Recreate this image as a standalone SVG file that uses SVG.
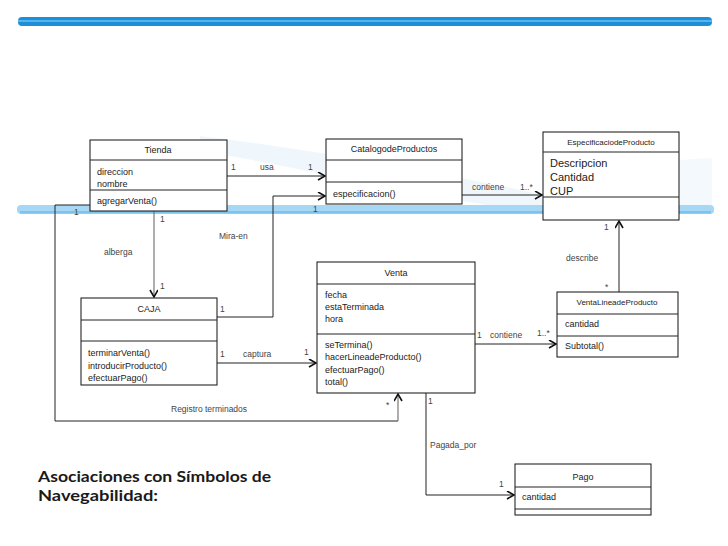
<svg xmlns="http://www.w3.org/2000/svg" width="728" height="546" viewBox="0 0 728 546">
<style>
.box{fill:#fff;stroke:#111;stroke-width:1}
.t{font-family:"Liberation Sans",Arial,sans-serif;font-size:9px;fill:#222}
.tc{text-anchor:middle}
.s{font-size:8px}
.b{font-size:11px}
.lbl{font-family:"Liberation Sans",Arial,sans-serif;font-size:8.5px;fill:#444}
.ln{fill:none;stroke:#222;stroke-width:1}
.lg{fill:none;stroke:#777;stroke-width:1.2}
.hd{font-family:Lato,"Open Sans",sans-serif;font-weight:bold;font-size:15.8px;fill:#1a1a1a}
</style>
<defs>
<marker id="arr" markerWidth="10" markerHeight="10" refX="8" refY="4" orient="auto" markerUnits="userSpaceOnUse">
<path d="M1,0 L8,4 L1,8" fill="none" stroke="#111" stroke-width="1.6"/>
</marker>
</defs>
<rect width="728" height="546" fill="#fff"/>
<g id="background">
<path d="M200,136 C320,150 450,175 545,195 L545,215 C450,200 330,175 200,150 Z" fill="#f0f7fc"/>
<path d="M680,160 L712,158 L712,205 L680,205 Z" fill="#f3f9fd"/>
<rect x="18" y="17" width="694" height="9" rx="4" fill="#1c8fd9"/>
<rect x="18" y="20" width="694" height="2" fill="#5ab4ec"/>
<rect x="17" y="205" width="697" height="9" rx="4" fill="#a6d8f6"/>
<rect x="20" y="211" width="691" height="2.5" fill="#7cc3ee"/>
</g>
<g id="connectors">
<line class="ln" x1="227" y1="176" x2="325" y2="176" marker-end="url(#arr)"/>
<polyline class="ln" points="217,317 273,317 273,196 325,196" marker-end="url(#arr)"/>
<line class="lg" x1="154" y1="211" x2="154" y2="297" marker-end="url(#arr)"/>
<polyline class="ln" points="90,205 55,205 55,421 398,421"/>
<line class="lg" x1="398" y1="421" x2="398" y2="394" marker-end="url(#arr)"/>
<line class="ln" x1="462" y1="195" x2="542" y2="195" marker-end="url(#arr)"/>
<line class="ln" x1="619" y1="292" x2="619" y2="221" marker-end="url(#arr)"/>
<line class="ln" x1="475" y1="344" x2="556" y2="344" marker-end="url(#arr)"/>
<line class="ln" x1="217" y1="363" x2="316" y2="363" marker-end="url(#arr)"/>
<polyline class="ln" points="426,393 426,495 514,495" marker-end="url(#arr)"/>
<text class="lbl" x="231" y="170">1</text>
<text class="lbl" x="260" y="170">usa</text>
<text class="lbl" x="308" y="170">1</text>
<text class="lbl" x="219" y="239">Mira-en</text>
<text class="lbl" x="220" y="312">1</text>
<text class="lbl" x="313" y="212">1</text>
<text class="lbl" x="160" y="222">1</text>
<text class="lbl" x="104" y="255">alberga</text>
<text class="lbl" x="160" y="289">1</text>
<text class="lbl" x="74" y="215">1</text>
<text class="lbl" x="171" y="412">Registro terminados</text>
<text class="lbl" x="386" y="408">*</text>
<text class="lbl" x="472" y="190">contiene</text>
<text class="lbl" x="520" y="190">1..*</text>
<text class="lbl" x="604" y="230">1</text>
<text class="lbl" x="566" y="261">describe</text>
<text class="lbl" x="605" y="290">*</text>
<text class="lbl" x="477" y="338">1</text>
<text class="lbl" x="490" y="338">contiene</text>
<text class="lbl" x="537" y="336">1..*</text>
<text class="lbl" x="220" y="357">1</text>
<text class="lbl" x="243" y="357">captura</text>
<text class="lbl" x="304" y="355">1</text>
<text class="lbl" x="428" y="404">1</text>
<text class="lbl" x="430" y="448">Pagada_por</text>
<text class="lbl" x="499" y="487">1</text>
</g>
<g id="Tienda">
<rect class="box" x="90" y="140" width="137" height="71"/>
<line class="ln" x1="90" y1="160" x2="227" y2="160"/>
<line class="ln" x1="90" y1="190" x2="227" y2="190"/>
<text class="t tc" x="158" y="153">Tienda</text>
<text class="t" x="97" y="175">direccion</text>
<text class="t" x="97" y="187">nombre</text>
<text class="t" x="97" y="204">agregarVenta()</text>
</g>
<g id="CatalogodeProductos">
<rect class="box" x="326" y="139" width="136" height="65"/>
<line class="ln" x1="326" y1="160" x2="462" y2="160"/>
<line class="ln" x1="326" y1="182" x2="462" y2="182"/>
<text class="t tc" x="394" y="152">CatalogodeProductos</text>
<text class="t" x="333" y="197">especificacion()</text>
</g>
<g id="EspecificaciodeProducto">
<rect class="box" x="543" y="132" width="136" height="88"/>
<line class="ln" x1="543" y1="152" x2="679" y2="152"/>
<line class="ln" x1="543" y1="197" x2="679" y2="197"/>
<text class="t tc s" x="611" y="145">EspecificaciodeProducto</text>
<text class="t b" x="550" y="167">Descripcion</text>
<text class="t b" x="550" y="181">Cantidad</text>
<text class="t b" x="550" y="195">CUP</text>
</g>
<g id="CAJA">
<rect class="box" x="81" y="298" width="136" height="87"/>
<line class="ln" x1="81" y1="320" x2="217" y2="320"/>
<line class="ln" x1="81" y1="341" x2="217" y2="341"/>
<text class="t tc" x="149" y="312">CAJA</text>
<text class="t" x="88" y="356">terminarVenta()</text>
<text class="t" x="88" y="369">introducirProducto()</text>
<text class="t" x="88" y="381">efectuarPago()</text>
</g>
<g id="Venta">
<rect class="box" x="317" y="262" width="158" height="131"/>
<line class="ln" x1="317" y1="284" x2="475" y2="284"/>
<line class="ln" x1="317" y1="334" x2="475" y2="334"/>
<text class="t tc" x="396" y="276">Venta</text>
<text class="t" x="325" y="298">fecha</text>
<text class="t" x="325" y="310">estaTerminada</text>
<text class="t" x="325" y="322">hora</text>
<text class="t" x="325" y="348">seTermina()</text>
<text class="t" x="325" y="360">hacerLineadeProducto()</text>
<text class="t" x="325" y="373">efectuarPago()</text>
<text class="t" x="325" y="385">total()</text>
</g>
<g id="VentaLineadeProducto">
<rect class="box" x="557" y="292" width="121" height="65"/>
<line class="ln" x1="557" y1="314" x2="678" y2="314"/>
<line class="ln" x1="557" y1="336" x2="678" y2="336"/>
<text class="t tc s" x="617" y="305">VentaLineadeProducto</text>
<text class="t" x="565" y="327">cantidad</text>
<text class="t" x="565" y="349">Subtotal()</text>
</g>
<g id="Pago">
<rect class="box" x="515" y="464" width="136" height="51"/>
<line class="ln" x1="515" y1="487" x2="651" y2="487"/>
<line class="ln" x1="515" y1="509" x2="651" y2="509"/>
<text class="t tc" x="583" y="480">Pago</text>
<text class="t" x="522" y="500">cantidad</text>
</g>
<g id="title">
<text class="hd" x="38" y="482" textLength="233" lengthAdjust="spacingAndGlyphs">Asociaciones con Símbolos de</text>
<text class="hd" x="38" y="501" textLength="120" lengthAdjust="spacingAndGlyphs">Navegabilidad:</text>
</g>
</svg>
